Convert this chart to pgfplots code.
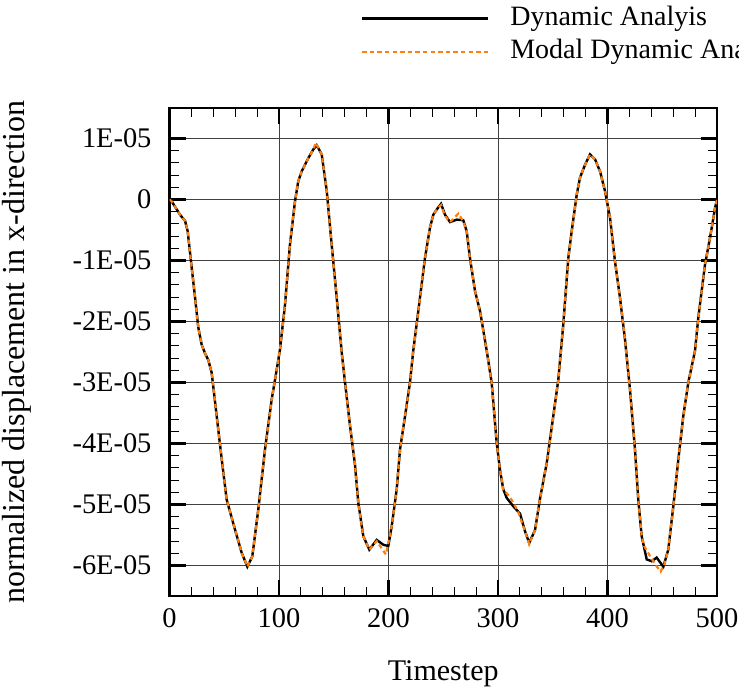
\documentclass[border=0pt]{standalone}
\usepackage{fontspec}
\setmainfont{Liberation Serif}
\usepackage{pgfplots}
\pgfplotsset{compat=1.18}
\definecolor{modalorange}{RGB}{255,127,14}
\begin{document}
\begin{tikzpicture}
\begin{axis}[
  name=ax,
  scale only axis,
  width=273.75pt, height=244pt,
  xmin=0, xmax=500, ymin=-65, ymax=15,
  xtick={0,100,...,500},
  ytick={-60,-50,...,10},
  yticklabels={-6E-05,-5E-05,-4E-05,-3E-05,-2E-05,-1E-05,0,1E-05},
  minor x tick num=4, minor y tick num=4,
  tick align=inside,
  major tick length=8pt, minor tick length=4.5pt,
  every major tick/.append style={line width=1.3pt, black},
  every minor tick/.append style={line width=0.5pt, black},
  axis line style={line width=1.3pt},
  grid=major,
  major grid style={line width=0.5pt, black!75},
  ticklabel style={font=\fontsize{14.2}{17}\selectfont},
  yticklabel style={xshift=-5.5pt},
  xticklabel style={yshift=-3pt},
  /pgf/number format/assume math mode=true,
  xlabel={Timestep}, ylabel={normalized displacement in x-direction},
  xlabel style={font=\fontsize{15}{18}\selectfont, yshift=-9.5pt},
  ylabel style={font=\fontsize{16}{19}\selectfont, yshift=14pt},
  legend cell align=left,
  legend style={draw=none, fill=none, at={(0,1)}, anchor=south west,
    xshift=95.5pt, yshift=20.5pt, inner sep=0pt, row sep=1.5pt,
    font=\fontsize{14}{17}\selectfont,
    nodes={inner ysep=1pt, text height=10pt, text depth=3pt}},
  legend image code/.code={\draw[#1] (0pt,0pt) -- (63pt,0pt); \path (71.5pt,0pt);},
]
\addplot[black, line width=1.2pt] coordinates {
(0,0) (2,-0.3) (9.6,-2.5) (14.2,-3.5) (16.6,-5.2) (19.6,-10.1) (23.3,-16)
(26.3,-21) (29.4,-23.8) (32.4,-25.2) (35.4,-26.3) (38.5,-28.4) (43.1,-35.5)
(47.7,-42.6) (52.2,-49.2) (59.8,-54.1) (65.9,-57.9) (71.1,-60.2) (75.6,-58.5)
(81.1,-50.8) (87.2,-41) (93.3,-32.8) (97.9,-27.9) (100.9,-24.6) (105.5,-17.2)
(110,-7.4) (114.6,-0.3) (117.6,3) (120.7,4.6) (126.8,6.8) (131.3,8.2)
(134.4,8.9) (139,7.4) (143.6,1.4) (148.1,-7.4) (152.7,-16.1) (157.3,-25.1)
(160.3,-30) (164.8,-37) (169.4,-43.5) (172.4,-49.7) (177,-55.2) (182.5,-57.4)
(189.2,-55.8) (195.3,-56.6) (199.8,-56.8) (202.9,-53.6) (207.5,-47.5)
(210.5,-41) (215.1,-35.5) (219.6,-30) (222.6,-24.8) (227.2,-18.3) (233.3,-9.6)
(237.9,-4.6) (240.9,-2.5) (244.6,-1.5) (248,-0.7) (251.6,-2.5) (256.2,-3.7)
(262.3,-3.3) (268.3,-3.4) (271.4,-5.2) (274.4,-9.6) (279,-15) (283.6,-18.3)
(289.7,-24.8) (294.2,-30) (298.8,-39.9) (301.8,-44.3) (304.8,-47.5)
(307.9,-48.9) (314,-50.3) (320.1,-51.5) (324.7,-54.4) (328.5,-56.3)
(333.8,-54.2) (338.4,-49) (344.5,-43.2) (350.5,-35.5) (355.1,-29.5)
(359.6,-20.5) (364.2,-9.6) (367.3,-5.2) (371.9,0.8) (374.9,3.6) (379.5,5.7)
(384,7.4) (388.6,6.6) (393.2,4.6) (397.7,1.4) (402.3,-3) (406.8,-10.1)
(411.4,-16.1) (416,-23) (420.5,-31.1) (425.1,-41) (428.1,-49.2) (431.2,-55.2)
(435.8,-59) (440.4,-59.3) (444.9,-58.7) (451,-60.2) (455.5,-57.4) (460.1,-50.3)
(464.7,-42.6) (469.2,-35.5) (473.8,-30) (479.9,-24.8) (482.9,-19.4)
(489,-10.7) (493.6,-6.3) (498.2,-1.4) (500,0)
};
\addlegendentry{Dynamic Analyis}
\addplot[modalorange, line width=1.1pt, dash pattern=on 2.2pt off 1.6pt] coordinates {
(0,0) (2,-0.3) (9.6,-2.5) (14.2,-3.5) (16.6,-5.2) (19.6,-10.1) (23.3,-16)
(26.3,-21) (29.4,-23.8) (32.4,-25.2) (35.4,-26.3) (38.5,-28.4) (43.1,-35.5)
(47.7,-42.6) (52.2,-49.2) (59.8,-54.1) (65.9,-57.9) (71.1,-60.2) (75.6,-58.5)
(81.1,-50.8) (87.2,-41) (93.3,-32.8) (97.9,-27.9) (100.9,-24.6) (105.5,-17.2)
(110,-7.4) (114.6,-0.3) (117.6,3) (120.7,4.6) (126.8,6.8) (131.3,8.2)
(133.5,9.3) (139,7.4) (143.6,1.4) (148.1,-7.4) (152.7,-16.1) (157.3,-25.1)
(160.3,-30) (164.8,-37) (169.4,-43.5) (172.4,-49.7) (177,-55.2) (182.5,-57.4)
(189.2,-56) (197.7,-58.2) (202.9,-53.6) (207.5,-47.5)
(210.5,-41) (215.1,-35.5) (219.6,-30) (222.6,-24.8) (227.2,-18.3) (233.3,-9.6)
(237.9,-4.6) (240.9,-2.5) (244.6,-1.5) (248,-0.9) (251.6,-2.7) (256.2,-3.7)
(263.8,-2.3) (268.3,-3.6) (271.4,-5.2) (274.4,-9.6) (279,-15) (283.6,-18.3)
(289.7,-24.8) (294.2,-30) (298.8,-39.9) (301.8,-44.3) (304.8,-47.5)
(311,-48.8) (318,-51) (324.7,-54.4) (328.5,-56.5)
(333.8,-54.2) (338.4,-49) (344.5,-43.2) (350.5,-35.5) (355.1,-29.5)
(359.6,-20.5) (364.2,-9.6) (367.3,-5.2) (371.9,0.8) (374.9,3.6) (379.5,5.7)
(384,7.4) (388.6,6.6) (393.2,4.6) (397.7,1.4) (402.3,-3) (406.8,-10.1)
(411.4,-16.1) (416,-23) (420.5,-31.1) (425.1,-41) (428.1,-49.2) (431.2,-55.2)
(433.5,-56.8) (440,-58.8) (446,-60.4) (448.5,-61) (452,-59.8) (455.5,-57.4) (460.1,-50.3)
(464.7,-42.6) (469.2,-35.5) (473.8,-30) (479.9,-24.8) (482.9,-19.4)
(489,-10.7) (493.6,-6.3) (498.2,-1.4) (500,0)
};
\addlegendentry{Modal Dynamic Analysis}
\end{axis}
\pgfresetboundingbox
\path ([xshift=-84.75pt,yshift=-46.5pt]ax.south west) rectangle ([xshift=11pt,yshift=54pt]ax.north east);
\end{tikzpicture}
\end{document}
